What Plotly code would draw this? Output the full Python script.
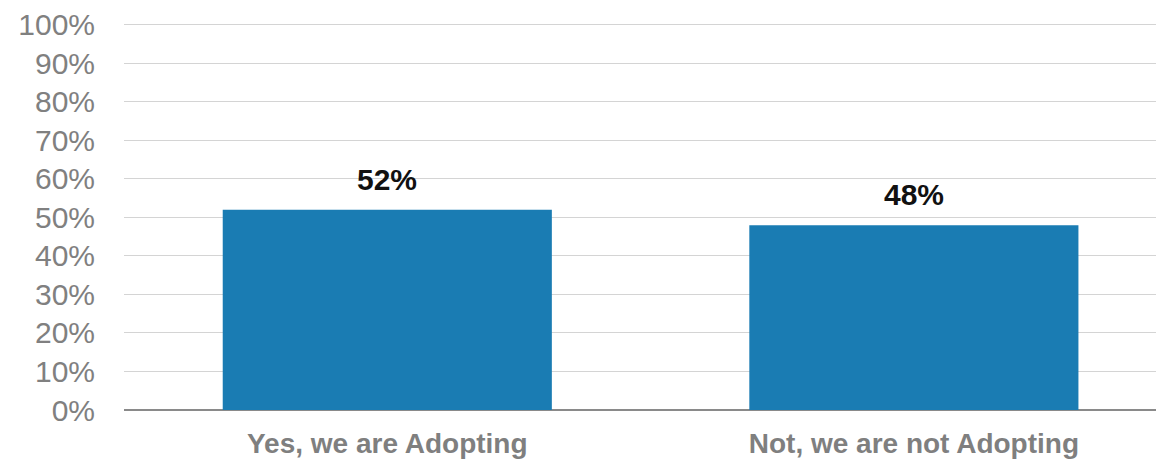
import plotly.graph_objects as go

categories = ["Yes, we are Adopting", "Not, we are not Adopting"]
values = [0.52, 0.48]
labels = ["52%", "48%"]
tick_vals = [0, 0.1, 0.2, 0.3, 0.4, 0.5, 0.6, 0.7, 0.8, 0.9, 1.0]
tick_text = ["0%", "10%", "20%", "30%", "40%", "50%", "60%", "70%", "80%", "90%", "100%"]

fig = go.Figure()
fig.add_trace(go.Bar(
    x=categories, y=values, width=0.625,
    marker=dict(color="#1a7cb3", line=dict(width=0)),
    hoverinfo="skip",
))
for c, v, t in zip(categories, values, labels):
    fig.add_annotation(x=c, y=v, text=t, showarrow=False, yanchor="bottom",
                       yshift=12, font=dict(family="Liberation Sans, Arial", size=30,
                                            color="#111111", weight="bold"),
                       xref="x", yref="y")

fig.update_layout(
    width=1156, height=454,
    margin=dict(l=116, r=0, t=0, b=52),
    paper_bgcolor="white", plot_bgcolor="white",
    showlegend=False,
    font=dict(family="Liberation Sans, Arial"),
    xaxis=dict(range=[-0.5, 1.475], showgrid=False, zeroline=False, showline=False,
               ticks="", tickfont=dict(size=28, color="#7f7f7f", weight="bold"),
               ticklabelstandoff=14),
    yaxis=dict(range=[0, 1.0334], tickvals=tick_vals, ticktext=tick_text,
               showgrid=True, gridcolor="#d4d4d4", gridwidth=1,
               zeroline=True, zerolinecolor="#8a8a8a", zerolinewidth=2,
               showline=False, ticks="", ticklabelstandoff=28,
               ticklabeloverflow="allow",
               tickfont=dict(size=30, color="#808080")),
)
fig.write_html("out.html")
